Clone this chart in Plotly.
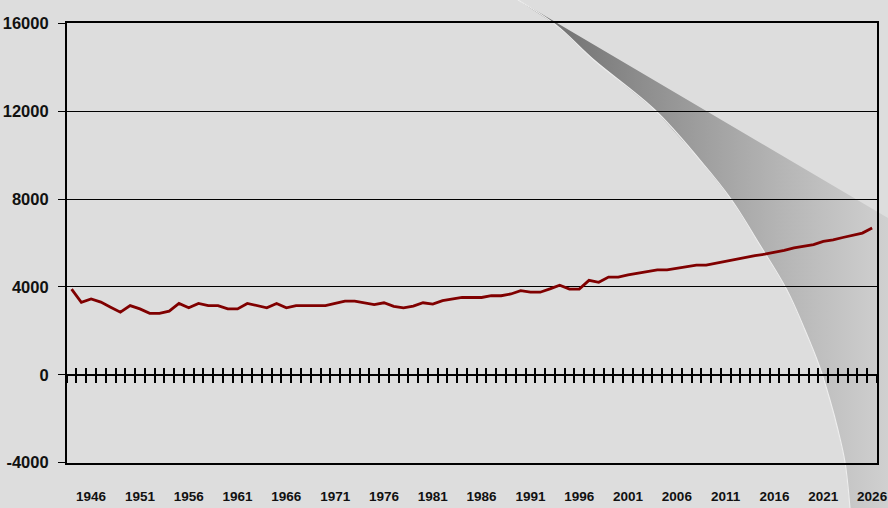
import plotly.graph_objects as go

# ---------------- data ----------------
years = list(range(1944, 2027))
values = [
    3900, 3300, 3450, 3310, 3080, 2850, 3150, 3000, 2800, 2800,
    2900, 3250, 3050, 3250, 3150, 3150, 3000, 3000, 3250, 3150,
    3050, 3250, 3050, 3150, 3150, 3150, 3150, 3250, 3350, 3350,
    3280, 3200, 3280, 3120, 3050, 3130, 3280, 3220, 3380, 3460,
    3520, 3520, 3520, 3600, 3600, 3680, 3830, 3760, 3760, 3910,
    4080, 3900, 3900, 4300, 4210, 4450, 4450, 4550, 4620, 4700,
    4780, 4780, 4850, 4940, 4990, 4990, 5080, 5170, 5250, 5340,
    5430, 5490, 5570, 5660, 5780, 5870, 5930, 6070, 6140, 6250,
    6340, 6450, 6680,
]
year_labels = [str(y) for y in range(1946, 2027, 5)]
y_ticks = [-4000, 0, 4000, 8000, 12000, 16000]

# ---------------- page geometry (pixels) ----------------
W, H = 888, 508
PLOT_L, PLOT_R, PLOT_T, PLOT_B = 66.7, 877.0, 23.3, 462.7
YMIN, YMAX = -4000, 16000
XMIN, XMAX = years[0] - 0.5, years[-1] + 0.5

# decorative page-curl (pixel coordinates of the figure)
curl_edge_x = [518, 556, 594, 655, 700, 731, 760, 787, 805, 819, 830, 838, 845, 850]
curl_edge_y = [0, 25, 60, 110, 160, 199, 245, 290, 330, 365, 400, 430, 462, 508]
curl_x = curl_edge_x + [888, 888, 518]
curl_y = curl_edge_y + [508, 218, 0]

xd = [PLOT_L / W, PLOT_R / W]
yd = [1 - PLOT_B / H, 1 - PLOT_T / H]
zero_pos = yd[0] + (0 - YMIN) / (YMAX - YMIN) * (yd[1] - yd[0])

FONT = "Liberation Sans, Arial, sans-serif"

fig = go.Figure()

# page curl (drawn first, under the chart)
fig.add_trace(go.Scatter(
    x=curl_x, y=curl_y, xaxis="x", yaxis="y", mode="none", fill="toself",
    fillgradient=dict(type="horizontal", start=518, stop=888,
                      colorscale=[[0, "#666666"], [0.35, "#8f8f8f"],
                                  [0.7, "#b4b4b4"], [1, "#d0d0d0"]]),
    hoverinfo="skip", showlegend=False))
fig.add_trace(go.Scatter(
    x=curl_edge_x, y=curl_edge_y, xaxis="x", yaxis="y", mode="lines",
    line=dict(color="#eeeeee", width=1.1, shape="spline"),
    hoverinfo="skip", showlegend=False))

# data line
fig.add_trace(go.Scatter(
    x=years, y=values, xaxis="x2", yaxis="y2", mode="lines",
    line=dict(color="#800000", width=2.8), showlegend=False))

# dummy traces to realise the zero-line axes
for ax in ("x3", "x4"):
    fig.add_trace(go.Scatter(x=[None], y=[None], xaxis=ax, yaxis="y2",
                             mode="lines", showlegend=False, hoverinfo="skip"))

boundaries = [y - 0.5 for y in years] + [years[-1] + 0.5]

fig.update_layout(
    template="none",
    width=W, height=H, autosize=False,
    margin=dict(l=0, r=0, t=0, b=0, pad=0, autoexpand=False),
    paper_bgcolor="#dddddd",
    plot_bgcolor="rgba(0,0,0,0)",
    showlegend=False,
    xaxis=dict(domain=[0, 1], range=[0, W], visible=False, fixedrange=True,
               automargin=False),
    yaxis=dict(domain=[0, 1], range=[H, 0], visible=False, fixedrange=True,
               automargin=False),
    xaxis2=dict(
        domain=xd, anchor="y2", range=[XMIN, XMAX], automargin=False,
        tickvals=[int(t) for t in year_labels], ticktext=year_labels,
        ticks="", showgrid=False, zeroline=False,
        showline=True, linecolor="#000000", linewidth=1.5, mirror=True,
        ticklabelstandoff=20,
        tickfont=dict(family=FONT, size=13.5, color="#111111", weight="bold"),
    ),
    yaxis2=dict(
        domain=yd, anchor="x2", range=[YMIN, YMAX], automargin=False,
        tickvals=y_ticks, ticktext=[str(v) for v in y_ticks],
        ticks="outside", ticklen=7, tickwidth=1.3, tickcolor="#000000",
        showgrid=True, gridcolor="#000000", gridwidth=1.3, zeroline=False,
        showline=True, linecolor="#000000", linewidth=1.5, mirror=True,
        ticklabelstandoff=6,
        tickfont=dict(family=FONT, size=16.5, color="#111111", weight="bold"),
    ),
    xaxis3=dict(
        overlaying="x2", anchor="free", position=zero_pos, range=[XMIN, XMAX],
        automargin=False,
        tickvals=boundaries, ticks="outside", ticklen=7, tickwidth=1.5,
        tickcolor="#000000", showticklabels=False, showgrid=False,
        zeroline=False, showline=True, linecolor="#000000", linewidth=1.6,
    ),
    xaxis4=dict(
        overlaying="x2", anchor="free", position=zero_pos, range=[XMIN, XMAX],
        automargin=False,
        tickvals=boundaries, ticks="inside", ticklen=7, tickwidth=1.5,
        tickcolor="#000000", showticklabels=False, showgrid=False,
        zeroline=False, showline=False,
    ),
)

fig.write_html(
    "out.html",
    config={"displayModeBar": False},
    post_script="document.body.style.margin='0';document.body.style.overflow='hidden';",
)
